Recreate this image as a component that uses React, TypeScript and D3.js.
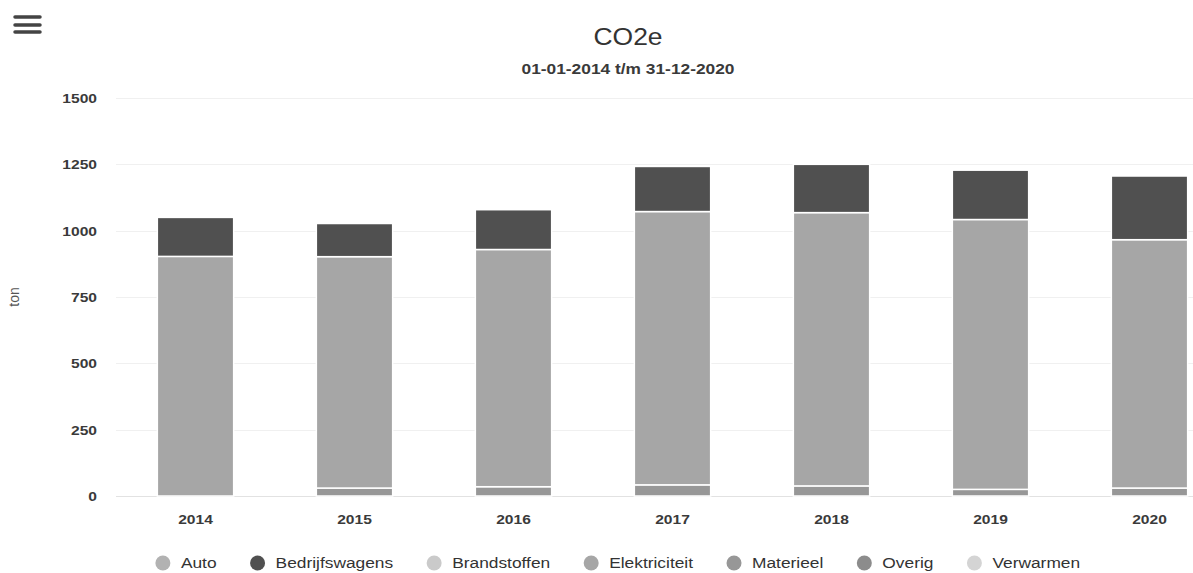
import { useEffect, useRef } from "react";
import * as d3 from "d3";

const YEARS = ["2014", "2015", "2016", "2017", "2018", "2019", "2020"];
const SERIES = ["Auto", "Bedrijfswagens", "Brandstoffen", "Elektriciteit", "Materieel", "Overig", "Verwarmen"];
const SERIES_COLORS = ["#b2b2b2", "#505050", "#cacaca", "#a6a6a6", "#979797", "#8c8c8c", "#d4d4d4"];

// values in ton CO2e per year
const AUTO = [0, 0, 0, 0, 0, 0, 0];
const BEDRIJFSWAGENS = [147, 125, 150, 170, 182, 186, 240];
const BRANDSTOFFEN = [0, 0, 0, 0, 0, 0, 0];
const ELEKTRICITEIT = [903, 872, 894, 1030, 1030, 1017, 936];
const MATERIEEL = [0, 30, 35, 42, 38, 25, 30];
const OVERIG = [0, 0, 0, 0, 0, 0, 0];
const VERWARMEN = [0, 0, 0, 0, 0, 0, 0];

const Y_TICKS = [0, 250, 500, 750, 1000, 1250, 1500];

const FONT = "'Liberation Sans', Arial, sans-serif";
// the source text is a bit wider than Liberation Sans
const STRETCH = 1.2;

export default function App() {
  const svgRef = useRef<SVGSVGElement>(null);

  useEffect(() => {
    if (!svgRef.current) return;
    const chartCenter = 628;
    const margin = { top: 98, left: 116, right: 1229, bottom: 496 };

    const svg = d3.select(svgRef.current);
    svg.selectAll("*").remove();

    const values: Record<string, number[]> = {
      Auto: AUTO,
      Bedrijfswagens: BEDRIJFSWAGENS,
      Brandstoffen: BRANDSTOFFEN,
      Elektriciteit: ELEKTRICITEIT,
      Materieel: MATERIEEL,
      Overig: OVERIG,
      Verwarmen: VERWARMEN,
    };
    const rows = YEARS.map((year, i) => {
      const r: any = { year };
      SERIES.forEach((s) => (r[s] = values[s][i]));
      return r;
    });

    // first series sits on top, like Highcharts
    const stack = d3.stack<any>().keys([...SERIES].reverse());
    const layers = stack(rows);

    const x = d3.scaleBand<string>().domain(YEARS).range([margin.left, margin.right]);
    const y = d3.scaleLinear().domain([0, 1500]).range([margin.bottom, margin.top]);
    const color = d3.scaleOrdinal<string, string>().domain(SERIES).range(SERIES_COLORS);
    const barW = x.bandwidth() * 0.48;

    // gridlines
    svg
      .append("g")
      .selectAll("line")
      .data(Y_TICKS)
      .join("line")
      .attr("x1", margin.left)
      .attr("x2", margin.right)
      .attr("y1", (d) => Math.round(y(d)) + 0.5)
      .attr("y2", (d) => Math.round(y(d)) + 0.5)
      .attr("stroke", (d) => (d === 0 ? "#e2e2e2" : "#f0f0f0"))
      .attr("stroke-width", 1);

    // bars
    svg
      .append("g")
      .selectAll("g")
      .data(layers)
      .join("g")
      .attr("fill", (d) => color(d.key))
      .selectAll("rect")
      .data((d) => d.filter((p) => p[1] - p[0] > 0))
      .join("rect")
      .attr("x", (d) => x(d.data.year)! + (x.bandwidth() - barW) / 2)
      .attr("width", barW)
      .attr("y", (d) => y(d[1]))
      .attr("height", (d) => y(d[0]) - y(d[1]))
      .attr("stroke", "#ffffff")
      .attr("stroke-width", 1.5);

    // y labels
    svg
      .append("g")
      .selectAll("text")
      .data(Y_TICKS)
      .join("text")
      .attr("transform", (d) => `translate(97,${y(d) + 5}) scale(${STRETCH},1)`)
      .attr("text-anchor", "end")
      .attr("font-family", FONT)
      .attr("font-size", 13)
      .attr("font-weight", "bold")
      .attr("fill", "#3a3a3a")
      .text((d) => d);

    // x labels
    svg
      .append("g")
      .selectAll("text")
      .data(YEARS)
      .join("text")
      .attr("transform", (d) => `translate(${x(d)! + x.bandwidth() / 2},524) scale(${STRETCH},1)`)
      .attr("text-anchor", "middle")
      .attr("font-family", FONT)
      .attr("font-size", 13)
      .attr("font-weight", "bold")
      .attr("fill", "#3a3a3a")
      .text((d) => d);

    // axis title
    svg
      .append("text")
      .attr("transform", `translate(19,${(margin.top + margin.bottom) / 2}) rotate(-90)`)
      .attr("text-anchor", "middle")
      .attr("font-family", FONT)
      .attr("font-size", 14)
      .attr("fill", "#555")
      .text("ton");

    // title + subtitle
    svg
      .append("text")
      .attr("transform", `translate(${chartCenter},45) scale(1.15,1)`)
      .attr("text-anchor", "middle")
      .attr("font-family", FONT)
      .attr("font-size", 23)
      .attr("fill", "#333")
      .text("CO2e");
    svg
      .append("text")
      .attr("transform", `translate(${chartCenter},74) scale(1.24,1)`)
      .attr("text-anchor", "middle")
      .attr("font-family", FONT)
      .attr("font-size", 14)
      .attr("font-weight", "bold")
      .attr("fill", "#3a3a3a")
      .text("01-01-2014 t/m 31-12-2020");

    // menu icon
    svg
      .append("g")
      .selectAll("line")
      .data([17, 25, 32])
      .join("line")
      .attr("x1", 15)
      .attr("x2", 40)
      .attr("y1", (d) => d)
      .attr("y2", (d) => d)
      .attr("stroke", "#444")
      .attr("stroke-width", 3.5)
      .attr("stroke-linecap", "round");

    // legend, laid out by measured text
    const legend = svg.append("g");
    const items = legend.selectAll("g").data(SERIES).join("g");
    items
      .append("circle")
      .attr("r", 7.5)
      .attr("fill", (d) => color(d));
    const labels = items
      .append("text")
      .attr("transform", `translate(18,5) scale(1.12,1)`)
      .attr("font-family", FONT)
      .attr("font-size", 15.5)
      .attr("fill", "#333")
      .text((d) => d);
    const widths: number[] = [];
    labels.each(function () {
      widths.push((this as SVGTextElement).getComputedTextLength() * 1.12);
    });
    const gap = 41;
    const itemW = widths.map((w) => 18 + w);
    const total = d3.sum(itemW) + gap * (itemW.length - 1);
    let cx = 614 - total / 2 + 7.5;
    items.attr("transform", (_, i) => {
      const t = `translate(${cx},563)`;
      cx += itemW[i] + gap;
      return t;
    });
  }, []);

  return (
    <svg
      ref={svgRef}
      width={1193}
      height={573}
      style={{ position: "absolute", left: 0, top: 0, background: "#fff" }}
    />
  );
}
